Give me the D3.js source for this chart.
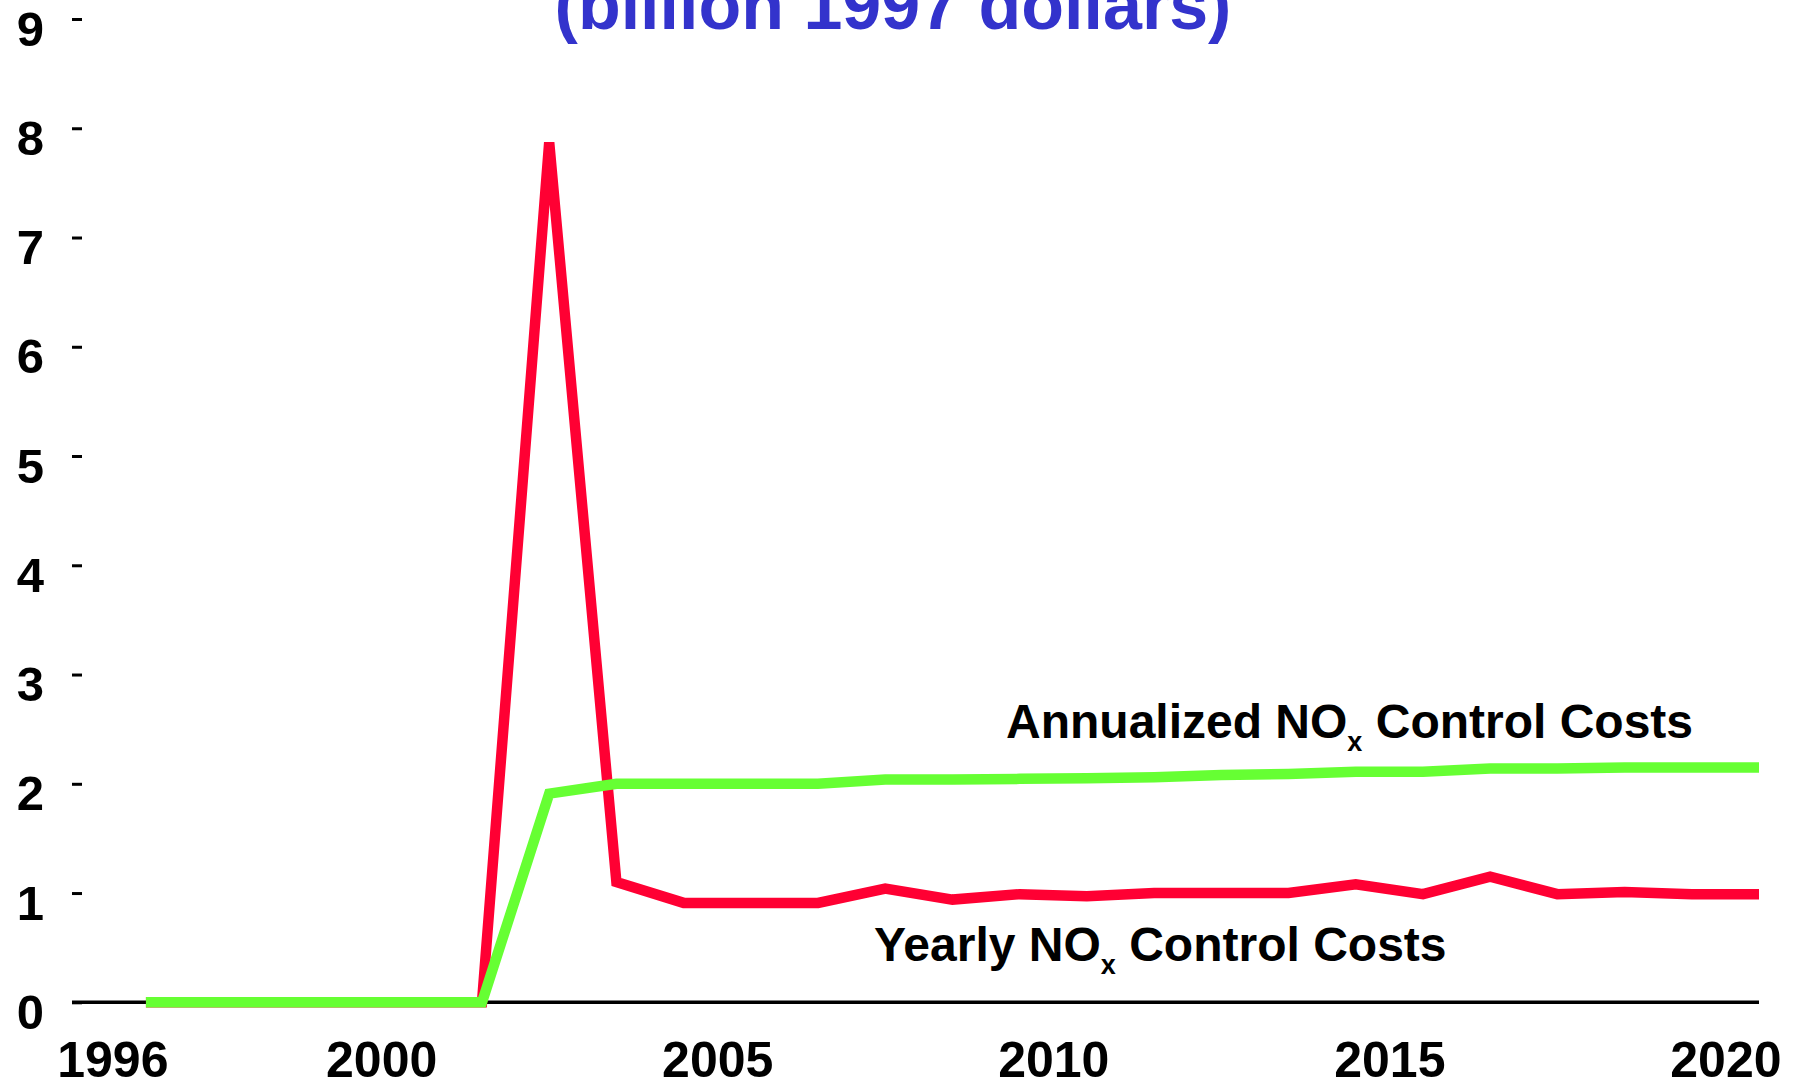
<!DOCTYPE html>
<html>
<head>
<meta charset="utf-8">
<script src="https://cdn.jsdelivr.net/npm/d3@7"></script>
<style>
  html, body { margin: 0; padding: 0; background: #ffffff; }
  svg { display: block; }
  text { font-family: "Liberation Sans", Arial, Helvetica, sans-serif; font-weight: bold; }
</style>
</head>
<body>
<svg id="chart" width="1795" height="1088"></svg>
<script>
// ---- data ----
const years = [1996,1997,1998,1999,2000,2001,2002,2003,2004,2005,2006,2007,2008,2009,2010,2011,2012,2013,2014,2015,2016,2017,2018,2019,2020];
const yearlyCosts = [0,0,0,0,0,0,7.87,1.1,0.91,0.91,0.91,1.04,0.94,0.99,0.97,1.0,1.0,1.0,1.08,0.99,1.15,0.99,1.01,0.99,0.99];
const annualizedCosts = [0,0,0,0,0,0,1.91,2.0,2.0,2.0,2.0,2.04,2.04,2.045,2.05,2.06,2.08,2.09,2.11,2.11,2.14,2.14,2.15,2.15,2.15];
const xTickLabels = [1996,2000,2005,2010,2015,2020];
const yTickValues = [0,1,2,3,4,5,6,7,8,9];
const titleText = "(billion 1997 dollars)";
const annualizedLabel = { main: "Annualized NO", sub: "x", rest: " Control Costs" };
const yearlyLabel = { main: "Yearly NO", sub: "x", rest: " Control Costs" };

(function () {
// ---- layout ----
const svg = d3.select("#chart");
const plotLeft = 72, plotRight = 1759, plotTop = 19, plotBottom = 1002.3;

const x = d3.scaleLinear().domain([1995.4, 2020.5]).range([plotLeft, plotRight]);
const y = d3.scaleLinear().domain([0, 9]).range([plotBottom, plotTop]);

svg.append("rect").attr("width", 1795).attr("height", 1088).attr("fill", "#ffffff");

// title (second line, partly cut at the top as in the original)
svg.append("text")
  .attr("x", 893).attr("y", 29)
  .attr("text-anchor", "middle")
  .attr("font-size", 70)
  .attr("fill", "#3333CC")
  .text(titleText);

// y axis
const yAxis = d3.axisLeft(y).tickValues(yTickValues).tickSize(10).tickPadding(28).tickFormat(d3.format("d"));
const gy = svg.append("g").attr("transform", "translate(82,0)").call(yAxis);
gy.select(".domain").remove();
gy.selectAll(".tick line").attr("stroke", "#000").attr("stroke-width", 3);
gy.selectAll(".tick text")
  .attr("font-size", 49).attr("fill", "#000")
  .attr("dy", 0).attr("y", 26)
  .style("font-family", "'Liberation Sans', Arial, sans-serif").style("font-weight", "bold");

// x axis
const xAxis = d3.axisBottom(x).tickValues(xTickLabels).tickSize(0).tickPadding(0).tickFormat(d3.format("d"));
const gx = svg.append("g").attr("transform", `translate(0,${plotBottom})`).call(xAxis);
gx.select(".domain").remove();
gx.selectAll(".tick text")
  .attr("font-size", 50).attr("fill", "#000")
  .attr("dy", 0).attr("y", 1077 - plotBottom)
  .style("font-family", "'Liberation Sans', Arial, sans-serif").style("font-weight", "bold");

// zero line
svg.append("line")
  .attr("x1", x(1995.4)).attr("x2", x(2020.5))
  .attr("y1", y(0)).attr("y2", y(0))
  .attr("stroke", "#000").attr("stroke-width", 3.5);

// lines (data points at mid-year)
const line = d3.line().x(d => x(d[0] + 0.5)).y(d => y(d[1]));

svg.append("path")
  .datum(years.map((yr, i) => [yr, yearlyCosts[i]]))
  .attr("d", line)
  .attr("fill", "none")
  .attr("stroke", "#FF0033")
  .attr("stroke-width", 10.5)
  .attr("stroke-linejoin", "miter")
  .attr("stroke-linecap", "butt");

svg.append("path")
  .datum(years.map((yr, i) => [yr, annualizedCosts[i]]))
  .attr("d", line)
  .attr("fill", "none")
  .attr("stroke", "#66FF33")
  .attr("stroke-width", 10.5)
  .attr("stroke-linejoin", "miter")
  .attr("stroke-linecap", "butt");

// labels
function label(lbl, xPos, yPos) {
  const t = svg.append("text").attr("x", xPos).attr("y", yPos).attr("font-size", 48).attr("fill", "#000");
  t.append("tspan").text(lbl.main);
  t.append("tspan").attr("font-size", 27).attr("dy", 13).text(lbl.sub);
  t.append("tspan").attr("dy", -13).text(lbl.rest);
}
label(annualizedLabel, 1006, 738);
label(yearlyLabel, 874, 961);
})();
</script>
</body>
</html>
